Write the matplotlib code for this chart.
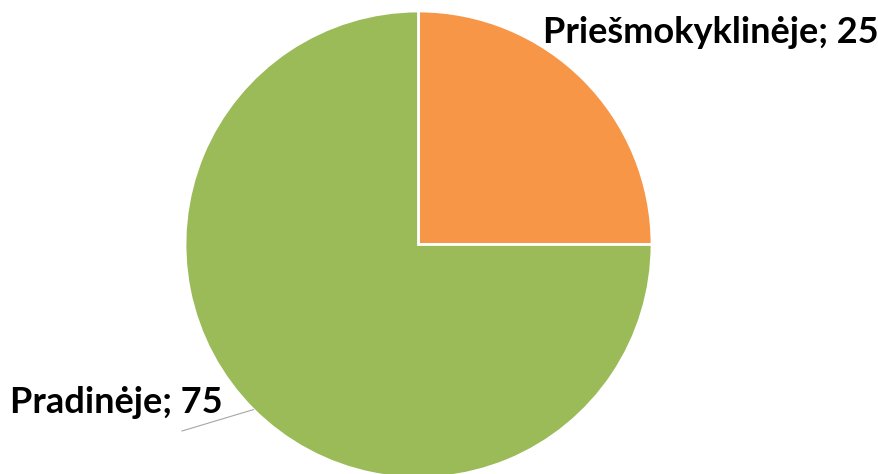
import numpy as np
from matplotlib import pyplot as plt

labels = ["Priešmokyklinėje", "Pradinėje"]
values = [25, 75]
colors = ["#f79646", "#9bbb59"]

W, H = 879, 474
fig = plt.figure(figsize=(W / 100, H / 100), dpi=100)
ax = fig.add_axes([0, 0, 1, 1])

cx, cy, r = 418.5, 229.5, 233.5
wedges, _ = ax.pie(values, colors=colors, startangle=90, counterclock=False,
                   center=(cx, cy), radius=r, frame=True,
                   wedgeprops=dict(edgecolor="white", linewidth=2))
ax.set_xlim(0, W)
ax.set_ylim(0, H)
ax.axis("off")

font = dict(family=["Lato", "DejaVu Sans"], fontweight="bold", fontsize=26, color="black")

# label for the small slice sits outside, top right
ax.text(543, 431, "{}; {}".format(labels[0], values[0]), ha="left", va="baseline", **font)

# label for the big slice, with a leader line to the wedge middle
w = wedges[1]
mid = np.deg2rad((w.theta1 + w.theta2) / 2)
ex, ey = cx + r * np.cos(mid), cy + r * np.sin(mid)
ax.plot([182, ex], [43, ey], color="#a6a6a6", linewidth=0.8)
ax.text(10, 61, "{}; {}".format(labels[1], values[1]), ha="left", va="baseline", **font)

fig.savefig("out.png", dpi=100)
